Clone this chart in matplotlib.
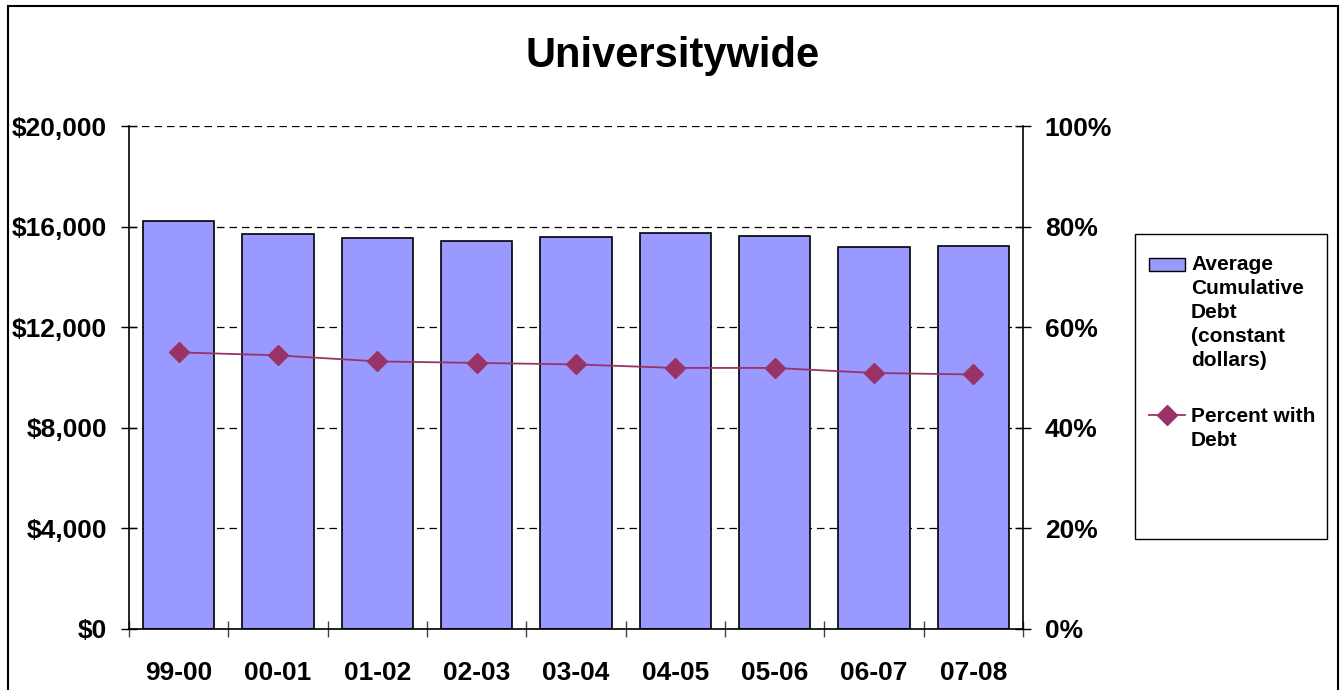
import numpy as np
import matplotlib.pyplot as plt
from matplotlib.patches import Rectangle
from matplotlib.lines import Line2D
from matplotlib.ticker import FuncFormatter, FixedLocator

# -------------------------------
# Data
# -------------------------------
years = ["99-00", "00-01", "01-02", "02-03", "03-04", "04-05", "05-06", "06-07", "07-08"]
avg_debt = [16240, 15690, 15560, 15440, 15570, 15760, 15610, 15200, 15230]
pct_with_debt = [55.0, 54.4, 53.2, 52.9, 52.6, 51.9, 51.9, 50.9, 50.6]

bar_color = "#9999FF"
line_color = "#993366"
font = "Liberation Sans"

W, H = 1340, 690


def fx(px):
    return px / W


def fy(py):
    return 1 - py / H


plt.rcParams["font.family"] = [font, "DejaVu Sans"]
plt.rcParams["font.weight"] = "bold"

fig = plt.figure(figsize=(W / 100, H / 100), dpi=100)
ax = fig.add_axes([fx(129), fy(629), fx(1023) - fx(129), fy(126) - fy(629)])

x = np.arange(len(years))

# -------------------------------
# Bars (left axis)
# -------------------------------
ax.bar(x, avg_debt, width=0.72, color=bar_color, edgecolor="black", linewidth=1.2, zorder=2)
ax.set_xlim(-0.5, len(years) - 0.5)
ax.set_ylim(0, 20000)
ax.set_yticks(np.arange(0, 20001, 4000))
ax.yaxis.set_major_formatter(FuncFormatter(lambda v, p: "${:,.0f}".format(v)))
ax.yaxis.grid(True, color="black", linestyle=(0, (6, 4)), linewidth=0.9, zorder=0)
ax.set_axisbelow(True)

ax.set_xticks(x)
ax.set_xticklabels(years)
ax.xaxis.set_minor_locator(FixedLocator(np.arange(-0.5, len(years), 1.0)))
ax.tick_params(axis="x", which="major", length=0, pad=23, labelsize=19)
ax.tick_params(axis="x", which="minor", direction="inout", length=11.5, width=1, color="#444444")
ax.tick_params(axis="y", direction="inout", length=11.5, width=1, pad=10, labelsize=19)

ax.spines["top"].set_visible(False)
ax.spines["right"].set_visible(False)
ax.spines["left"].set_linewidth(1.2)
ax.spines["bottom"].set_linewidth(1.2)

# -------------------------------
# Line (right axis)
# -------------------------------
ax2 = ax.twinx()
ax2.plot(x, pct_with_debt, color=line_color, linewidth=1.3, marker="D", markersize=10,
         markeredgecolor=line_color, markerfacecolor=line_color, zorder=3)
ax2.set_ylim(0, 100)
ax2.set_yticks(np.arange(0, 101, 20))
ax2.yaxis.set_major_formatter(FuncFormatter(lambda v, p: "%d%%" % v))
ax2.tick_params(axis="y", direction="inout", length=11.5, width=1, pad=10, labelsize=19)
for s in ["top", "left", "bottom"]:
    ax2.spines[s].set_visible(False)
ax2.spines["right"].set_linewidth(1.2)

# -------------------------------
# Title
# -------------------------------
fig.text(fx(673), fy(56), "Universitywide", ha="center", va="center",
         fontsize=30, fontweight="bold")

# -------------------------------
# Legend (drawn by hand to match layout)
# -------------------------------
fig.patches.append(Rectangle((fx(1135), fy(539)), fx(1327) - fx(1135), fy(234) - fy(539),
                             transform=fig.transFigure, facecolor="white",
                             edgecolor="black", linewidth=1))
fig.patches.append(Rectangle((fx(1149), fy(271)), fx(1185) - fx(1149), fy(258) - fy(271),
                             transform=fig.transFigure, facecolor=bar_color,
                             edgecolor="black", linewidth=1))
fig.lines.append(Line2D([fx(1149), fx(1185)], [fy(415), fy(415)], transform=fig.transFigure,
                        color=line_color, linewidth=1.3))
fig.lines.append(Line2D([fx(1167)], [fy(415)], transform=fig.transFigure, color=line_color,
                        marker="D", markersize=10, linestyle="none"))

bar_label = ["Average", "Cumulative", "Debt", "(constant", "dollars)"]
line_label = ["Percent with", "Debt"]
for i, t in enumerate(bar_label):
    fig.text(fx(1191), fy(264 + 24 * i), t, ha="left", va="center", fontsize=15, fontweight="bold")
for i, t in enumerate(line_label):
    fig.text(fx(1191), fy(416 + 24 * i), t, ha="left", va="center", fontsize=15, fontweight="bold")

# -------------------------------
# Outer chart frame
# -------------------------------
fig.patches.append(Rectangle((fx(8), -0.05), fx(1338) - fx(8), fy(6) + 0.05,
                             transform=fig.transFigure, facecolor="none",
                             edgecolor="black", linewidth=1.5, zorder=-1))

fig.savefig("out.png", dpi=100)
